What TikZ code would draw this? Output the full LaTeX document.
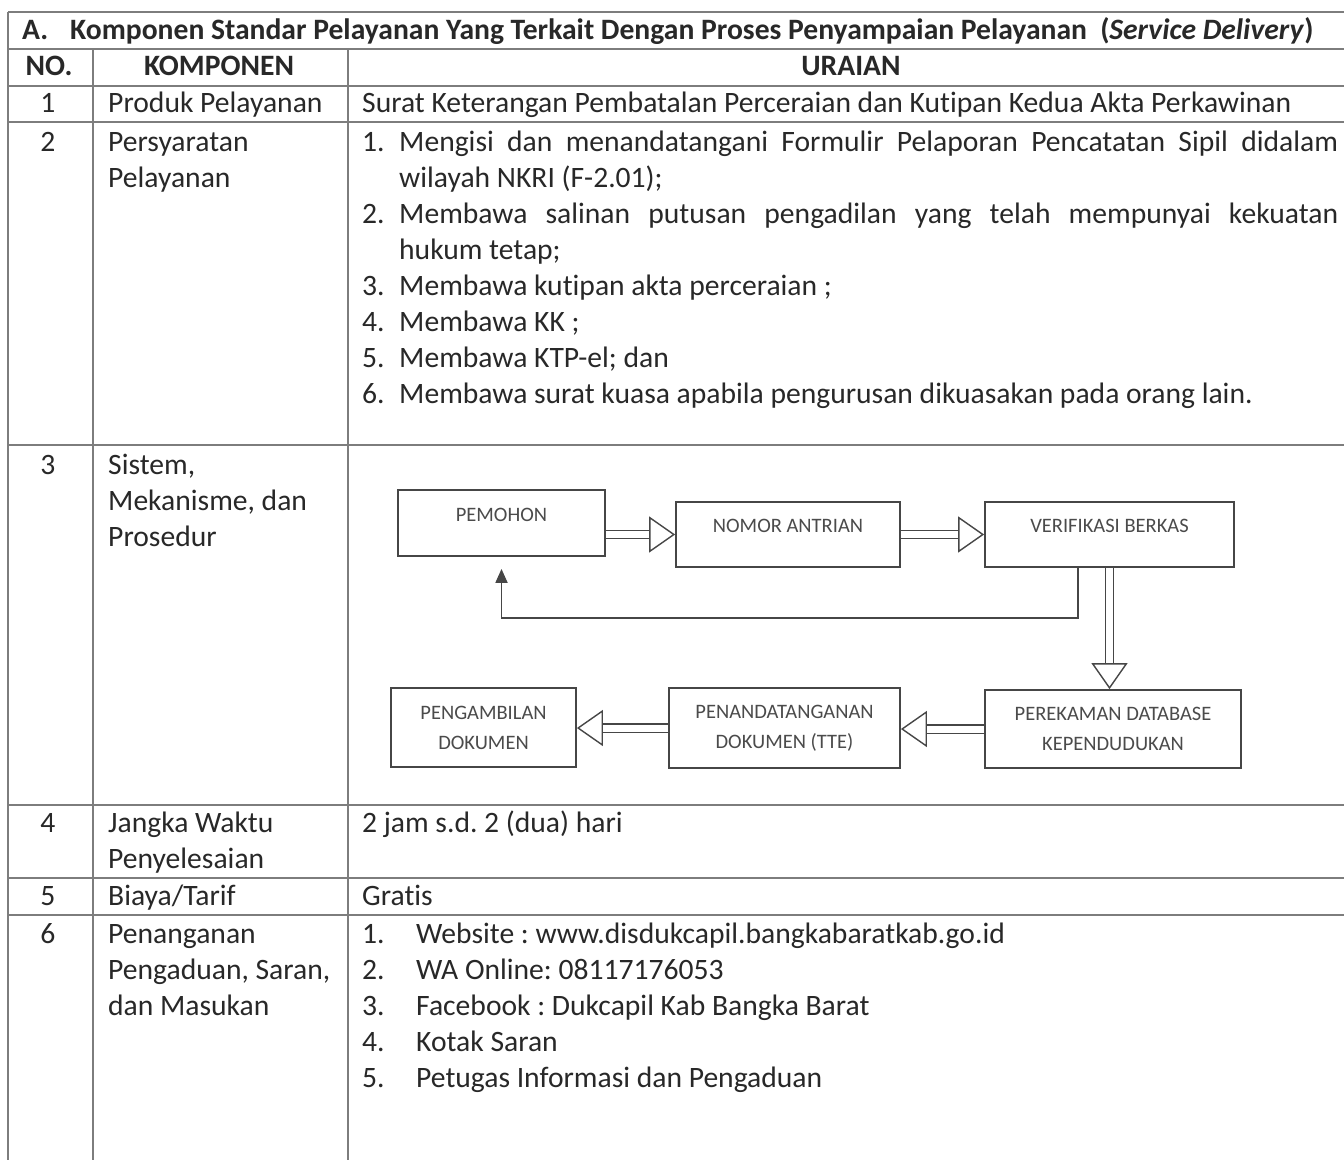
\documentclass[tikz,border=0pt]{standalone}
\usepackage{fontspec}
\setmainfont{Carlito}[Ligatures=NoCommon]
\usetikzlibrary{arrows.meta}
\definecolor{ink}{RGB}{40,40,40}
\definecolor{gridc}{RGB}{125,125,125}
\definecolor{boxc}{RGB}{70,70,70}
\definecolor{boxtext}{RGB}{75,75,75}
\frenchspacing

\begin{document}
\begin{tikzpicture}[x=1pt, y=-1pt]
  % Define styles
  \tikzstyle{gridline} = [draw=gridc, line width=1.4pt]
  \tikzstyle{cell} = [anchor=base west, inner sep=0pt, text=ink, font=\fontsize{29.6}{36}\selectfont]
  \tikzstyle{num} = [cell, anchor=base]
  \tikzstyle{bold} = [cell, font=\fontsize{29.6}{36}\selectfont\bfseries]
  \tikzstyle{box} = [draw=boxc, line width=1.8pt, text=boxtext, font=\fontsize{20.5}{30}\selectfont, inner sep=0pt, align=center]
  \tikzstyle{flow} = [draw=boxc, double, double distance=7pt, line width=1.4pt, -{Triangle[open, length=26pt 0 0, width=36pt 0 0]}]
  \tikzstyle{ret} = [draw=boxc, line width=1.8pt, -{Triangle[length=14pt, width=12pt]}]

  \useasboundingbox (0,0) rectangle (1344,1160);
  \fill[white] (0,0) rectangle (1344,1160);

  % Table rules
  \foreach \y in {12,49,86,122,445,805,878,915}
    \draw[gridline] (8,\y) -- (1344,\y);
  \draw[gridline] (8,12) -- (8,1160);
  \draw[gridline] (93,49) -- (93,1160);
  \draw[gridline] (348,49) -- (348,1160);

  % Title and header
  \node[bold] (judul) at (22,39) {\makebox[48pt][l]{A.}Komponen Standar Pelayanan Yang Terkait Dengan Proses Penyampaian Pelayanan\ \ (\textit{Service Delivery})};
  \node[bold, anchor=base] (hno) at (49,75) {NO.};
  \node[bold, anchor=base] (hkomp) at (219,75) {KOMPONEN};
  \node[bold, anchor=base] (hurai) at (851,75) {URAIAN};

  % Row 1
  \node[num] (n1) at (48,112) {1};
  \node[cell] (k1) at (108,112) {Produk Pelayanan};
  \node[cell] (u1) at (362,112) {Surat Keterangan Pembatalan Perceraian dan Kutipan Kedua Akta Perkawinan};

  % Row 2
  \node[num] (n2) at (48,151) {2};
  \node[cell] (k2a) at (108,151) {Persyaratan};
  \node[cell] (k2b) at (108,187) {Pelayanan};
  \node[cell] (u2a) at (362,151) {1.};
  \node[cell] (u2b) at (399,151) {\makebox[939pt][s]{Mengisi dan menandatangani Formulir Pelaporan Pencatatan Sipil didalam}};
  \node[cell] (u2c) at (399,187) {wilayah NKRI (F-2.01);};
  \node[cell] (u2d) at (362,223) {2.};
  \node[cell] (u2e) at (399,223) {\makebox[939pt][s]{Membawa salinan putusan pengadilan yang telah mempunyai kekuatan}};
  \node[cell] (u2f) at (399,259) {hukum tetap;};
  \foreach \i/\t [count=\k] in {3/Membawa kutipan akta perceraian ;, 4/Membawa KK ;, 5/Membawa KTP-el; dan, 6/Membawa surat kuasa apabila pengurusan dikuasakan pada orang lain.}{
    \node[cell] (u2n\i) at (362,259+36*\k) {\i.};
    \node[cell] (u2t\i) at (399,259+36*\k) {\t};
  }

  % Row 3
  \node[num] (n3) at (48,474) {3};
  \node[cell] (k3a) at (108,474) {Sistem,};
  \node[cell] (k3b) at (108,510) {Mekanisme, dan};
  \node[cell] (k3c) at (108,546) {Prosedur};

  % Flowchart
  \node[box, minimum width=207pt, text height=31.5pt, text depth=34.5pt] (pemohon) at (501.5,523) {PEMOHON};
  \node[box, minimum width=224pt, text height=30.5pt, text depth=34.5pt] (antrian) at (788,534.5) {NOMOR ANTRIAN};
  \node[box, minimum width=249pt, text height=30.5pt, text depth=34.5pt] (verif) at (1109.5,534.5) {VERIFIKASI BERKAS};
  \node[box, minimum width=256pt, minimum height=78pt] (rekam) at (1113,729) {PEREKAMAN DATABASE\\KEPENDUDUKAN};
  \node[box, minimum width=231pt, minimum height=80pt] (ttd) at (784.5,728) {PENANDATANGANAN\\DOKUMEN (TTE)};
  \node[box, minimum width=185pt, minimum height=79pt] (ambil) at (483.5,727.5) {PENGAMBILAN\\DOKUMEN};

  \draw[flow] (pemohon.east |- antrian.west) -- (antrian.west);
  \draw[flow] (antrian) -- (verif);
  \draw[flow] (verif.south) -- (verif.south |- rekam.north);
  \draw[flow] (rekam.west) -- (rekam.west -| ttd.east);
  \draw[flow] (ttd.west) -- (ttd.west -| ambil.east);
  \draw[ret] ([xshift=-31.5pt]verif.south) |- ([yshift=-61pt]pemohon.south) -- ([yshift=-12pt]pemohon.south);

  % Row 4 and 5
  \node[num] (n4) at (48,832) {4};
  \node[cell] (k4a) at (108,832) {Jangka Waktu};
  \node[cell] (k4b) at (108,868) {Penyelesaian};
  \node[cell] (u4) at (362,832) {2 jam s.d. 2 (dua) hari};
  \node[num] (n5) at (48,905) {5};
  \node[cell] (k5) at (108,905) {Biaya/Tarif};
  \node[cell] (u5) at (362,905) {Gratis};

  % Row 6
  \node[num] (n6) at (48,943) {6};
  \node[cell] (k6a) at (108,943) {Penanganan};
  \node[cell] (k6b) at (108,979) {Pengaduan, Saran,};
  \node[cell] (k6c) at (108,1015) {dan Masukan};
  \foreach \t [count=\k] in {Website : www.disdukcapil.bangkabaratkab.go.id, WA Online: 08117176053, Facebook : Dukcapil Kab Bangka Barat, Kotak Saran, Petugas Informasi dan Pengaduan}{
    \node[cell] (u6n\k) at (362,907+36*\k) {\k.};
    \node[cell] (u6t\k) at (416,907+36*\k) {\t};
  }
\end{tikzpicture}
\end{document}
